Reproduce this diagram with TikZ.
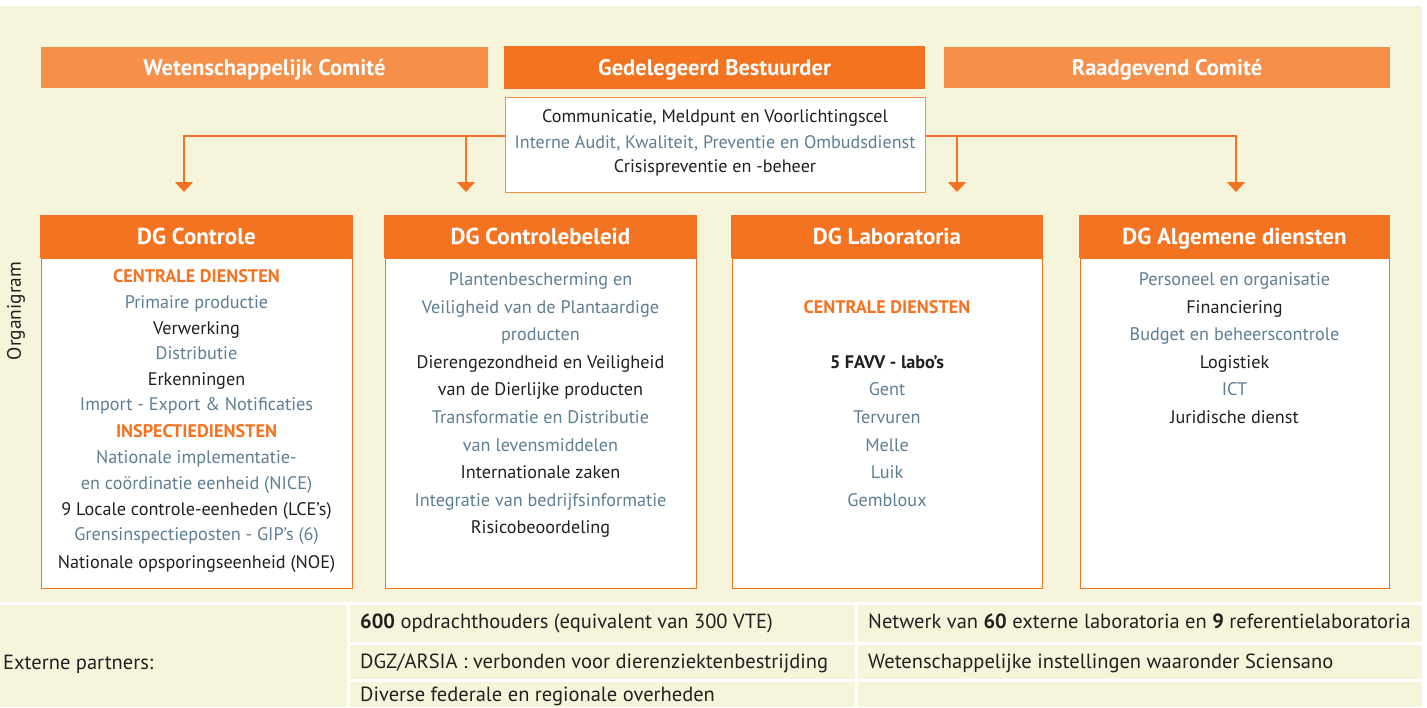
\documentclass[tikz,border=0pt]{standalone}
\usepackage{fontspec}
\setmainfont{PT Sans}
\usetikzlibrary{arrows.meta}
\definecolor{cream}{HTML}{F7F4DC}
\definecolor{orD}{HTML}{F37321}
\definecolor{orL}{HTML}{F68F4A}
\definecolor{tblue}{HTML}{5E7F92}
\definecolor{tdark}{HTML}{231F20}
\begin{document}
\begin{tikzpicture}[x=1pt,y=-1pt,
  topbox/.style={minimum height=41pt,inner sep=0pt,text=white,text height=15.8pt,text depth=0pt,font=\fontsize{22.5}{26}\selectfont\bfseries},
  dghead/.style={fill=orD,minimum width=313pt,minimum height=43pt,inner sep=0pt,text=white,text height=16.1pt,text depth=0pt,font=\fontsize{23}{26}\selectfont\bfseries},
  dgbody/.style={draw=orD,line width=1pt,fill=white,minimum width=311pt,minimum height=330pt,inner sep=0pt},
  ln/.style={anchor=base,inner sep=0pt,font=\fontsize{18.2}{22}\selectfont},
  lb/.style={ln,text=tblue},
  ld/.style={ln,text=tdark},
  lo/.style={ln,text=orD,font=\fontsize{18.2}{22}\selectfont\bfseries},
  gl/.style={anchor=base,inner sep=0pt,font=\fontsize{18.1}{22}\selectfont},
  tb/.style={anchor=base west,inner sep=0pt,text=tdark,font=\fontsize{20.5}{24}\selectfont},
  conn/.style={draw=orD,line width=1.4pt,-{Triangle[width=18pt,length=10pt]}},
  cell/.style={fill=cream,draw=none}
]
\useasboundingbox (0,0) rectangle (1427,707);
\fill[white] (0,0) rectangle (1427,707);
% background areas
\fill[cream] (0,6) rectangle (1422,602);
\fill[cell] (0,605) rectangle (347,707);
\fill[cell] (350,605) rectangle (855,642);
\fill[cell] (858,605) rectangle (1422,642);
\fill[cell] (350,645) rectangle (855,679);
\fill[cell] (858,645) rectangle (1422,679);
\fill[cell] (350,682) rectangle (855,707);
\fill[cell] (858,682) rectangle (1422,707);

% connectors
\coordinate (hl) at (0,136);
\coordinate (a1) at (184,192);
\coordinate (a2) at (466,192);
\coordinate (a3) at (957,192);
\coordinate (a4) at (1236,192);
\coordinate (gw) at (505,136);
\coordinate (ge) at (925,136);
\draw[conn] (gw) -| (a1);
\draw[conn] (gw) -| (a2);
\draw[conn] (ge) -| (a3);
\draw[conn] (ge) -| (a4);

% top row
\node[topbox,fill=orL,minimum width=447pt] (wet) at (264.5,67.5) {Wetenschappelijk Comité};
\node[topbox,fill=orD,minimum width=421pt,minimum height=43pt] (ged) at (714.5,67.5) {Gedelegeerd Bestuurder};
\node[topbox,fill=orL,minimum width=446pt] (raad) at (1167,67.5) {Raadgevend Comité};

\node[draw=orL,line width=1pt,fill=white,minimum width=420pt,minimum height=95pt,inner sep=0pt] (gbox) at (715,144.5) {};
\node[gl,text=tdark] (g1) at (715,122.5) {Communicatie, Meldpunt en Voorlichtingscel};
\node[gl,text=tblue] (g2) at (715,148.5) {Interne Audit, Kwaliteit, Preventie en Ombudsdienst};
\node[gl,text=tdark] (g3) at (715,172.5) {Crisispreventie en -beheer};

% DG boxes
\node[dghead] (h1) at (196.5,236.5) {DG Controle};
\node[dghead] (h2) at (540.5,236.5) {DG Controlebeleid};
\node[dghead,minimum width=312pt] (h3) at (887,236.5) {DG Laboratoria};
\node[dghead,minimum width=311pt] (h4) at (1234.5,236.5) {DG Algemene diensten};
\node[dgbody,anchor=north] (b1) at (h1.south) {};
\node[dgbody,anchor=north] (b2) at (h2.south) {};
\node[dgbody,anchor=north,minimum width=310pt] (b3) at (h3.south) {};
\node[dgbody,anchor=north,minimum width=309pt] (b4) at (h4.south) {};

% DG Controle
\node[lo] (c1) at (196.5,282) {CENTRALE DIENSTEN};
\node[lb] (c2) at (196.5,308) {Primaire productie};
\node[ld] (c3) at (196.5,334) {Verwerking};
\node[lb] (c4) at (196.5,359) {Distributie};
\node[ld] (c5) at (196.5,385) {Erkenningen};
\node[lb] (c6) at (196.5,410) {Import - Export \& Notificaties};
\node[lo] (c7) at (196.5,437) {INSPECTIEDIENSTEN};
\node[lb] (c8) at (196.5,463) {Nationale implementatie-};
\node[lb] (c9) at (196.5,489) {en coördinatie eenheid (NICE)};
\node[ld] (c10) at (196.5,515) {9 Locale controle-eenheden (LCE’s)};
\node[lb] (c11) at (196.5,540) {Grensinspectieposten - GIP’s (6)};
\node[ld] (c12) at (196.5,568) {Nationale opsporingseenheid (NOE)};

% DG Controlebeleid
\node[lb] (d1) at (540.5,285) {Plantenbescherming en};
\node[lb] (d2) at (540.5,313) {Veiligheid van de Plantaardige};
\node[lb] (d3) at (540.5,340) {producten};
\node[ld] (d4) at (540.5,368) {Dierengezondheid en Veiligheid};
\node[ld] (d5) at (540.5,395) {van de Dierlijke producten};
\node[lb] (d6) at (540.5,423) {Transformatie en Distributie};
\node[lb] (d7) at (540.5,451) {van levensmiddelen};
\node[ld] (d8) at (540.5,478) {Internationale zaken};
\node[lb] (d9) at (540.5,506) {Integratie van bedrijfsinformatie};
\node[ld] (d10) at (540.5,533) {Risicobeoordeling};

% DG Laboratoria
\node[lo] (e1) at (887,313) {CENTRALE DIENSTEN};
\node[ld,font=\fontsize{18.2}{22}\selectfont\bfseries] (e2) at (887,368) {5 FAVV - labo’s};
\node[lb] (e3) at (887,395) {Gent};
\node[lb] (e4) at (887,423) {Tervuren};
\node[lb] (e5) at (887,451) {Melle};
\node[lb] (e6) at (887,478) {Luik};
\node[lb] (e7) at (887,506) {Gembloux};

% DG Algemene diensten
\node[lb] (f1) at (1234.5,285) {Personeel en organisatie};
\node[ld] (f2) at (1234.5,313) {Financiering};
\node[lb] (f3) at (1234.5,340) {Budget en beheerscontrole};
\node[ld] (f4) at (1234.5,368) {Logistiek};
\node[lb] (f5) at (1234.5,395) {ICT};
\node[ld] (f6) at (1234.5,423) {Juridische dienst};

% side label
\node[rotate=90,inner sep=0pt,text=tdark,font=\fontsize{19.4}{22}\selectfont] (org) at (16,311) {Organigram};

% table
\node[tb] (t0) at (3,669) {Externe partners:};
\node[tb] (t1) at (360,628) {\textbf{600} opdrachthouders (equivalent van 300 VTE)};
\node[tb] (t2) at (868,628) {Netwerk van \textbf{60} externe laboratoria en \textbf{9} referentielaboratoria};
\node[tb] (t3) at (360,668) {DGZ/ARSIA : verbonden voor dierenziektenbestrijding};
\node[tb] (t4) at (868,668) {Wetenschappelijke instellingen waaronder Sciensano};
\node[tb] (t5) at (360,701) {Diverse federale en regionale overheden};
\end{tikzpicture}
\end{document}
